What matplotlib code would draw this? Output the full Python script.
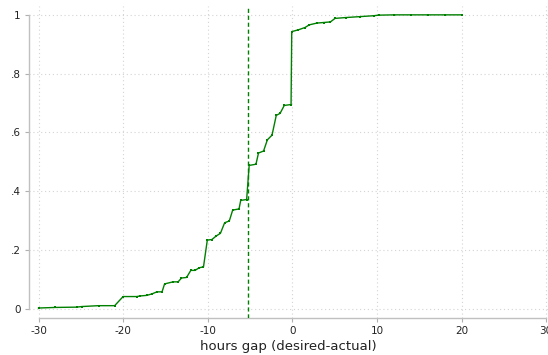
import matplotlib
matplotlib.use("Agg")
import matplotlib.pyplot as plt

# cumulative share vs hours gap
gap = [-30.0, -28.0, -25.5, -24.9, -22.9, -21.0, -20.0, -18.4, -18.0, -17.2,
       -16.6, -16.0, -15.4, -15.1, -14.1, -13.5, -13.1, -12.5, -12.0, -11.5,
       -11.0, -10.5, -10.05, -9.5, -9.0, -8.5, -8.0, -7.45, -7.05, -6.3,
       -6.1, -5.4, -5.1, -4.3, -4.0, -3.4, -2.95, -2.4, -1.9, -1.45,
       -0.95, -0.15, -0.07, 0.7, 1.5, 2.0, 2.9, 3.7, 4.5, 5.05,
       6.4, 8.0, 9.6, 10.2, 12.0, 14.0, 16.0, 18.0, 20.0]
share = [0.003, 0.005, 0.006, 0.008, 0.011, 0.011, 0.042, 0.042, 0.044, 0.046,
         0.051, 0.058, 0.058, 0.085, 0.092, 0.092, 0.105, 0.107, 0.131, 0.131,
         0.140, 0.143, 0.234, 0.236, 0.248, 0.257, 0.293, 0.299, 0.336, 0.340,
         0.369, 0.372, 0.488, 0.492, 0.530, 0.537, 0.575, 0.591, 0.658, 0.665,
         0.692, 0.695, 0.943, 0.949, 0.957, 0.966, 0.972, 0.974, 0.976, 0.988,
         0.991, 0.994, 0.997, 0.999, 1.0, 1.0, 1.0, 1.0, 1.0]
median_gap = -5.2

xticks = [-30, -20, -10, 0, 10, 20, 30]
yticks = [0, 0.2, 0.4, 0.6, 0.8, 1.0]
ytick_labels = ["0", ".2", ".4", ".6", ".8", "1"]

fig = plt.figure(figsize=(5.48, 3.55), dpi=100)
ax = fig.add_axes([0.053, 0.105, 0.947, 0.878])

green = "#008000"
ax.plot(gap, share, color=green, lw=1.0, marker="s", markersize=1.6,
        markeredgewidth=0, zorder=3)
ax.axvline(median_gap, color=green, lw=1.0, ls=(0, (3, 2)), zorder=3)

ax.set_xlim(-31.12, 30.22)
ax.set_ylim(-0.03, 1.03)
ax.set_xticks(xticks)
ax.set_xticklabels([str(t) for t in xticks])
ax.set_yticks(yticks)
ax.set_yticklabels(ytick_labels)

ax.grid(True, color="#d4d4d4", ls=(0, (1, 2.5)), lw=0.8)
ax.set_axisbelow(True)

for side in ["top", "right"]:
    ax.spines[side].set_visible(False)
ax.spines["bottom"].set_bounds(-30, 30)
ax.spines["left"].set_bounds(0, 1)
for side in ["bottom", "left"]:
    ax.spines[side].set_color("#c0c0c0")
    ax.spines[side].set_linewidth(1.0)

ax.tick_params(axis="both", colors="#b0b0b0", labelcolor="#222222",
               labelsize=7.5, length=3, width=0.8, pad=3)
ax.set_xlabel("hours gap (desired-actual)", fontsize=9.5, color="#222222",
              labelpad=3)

fig.savefig("out.png", dpi=100)
